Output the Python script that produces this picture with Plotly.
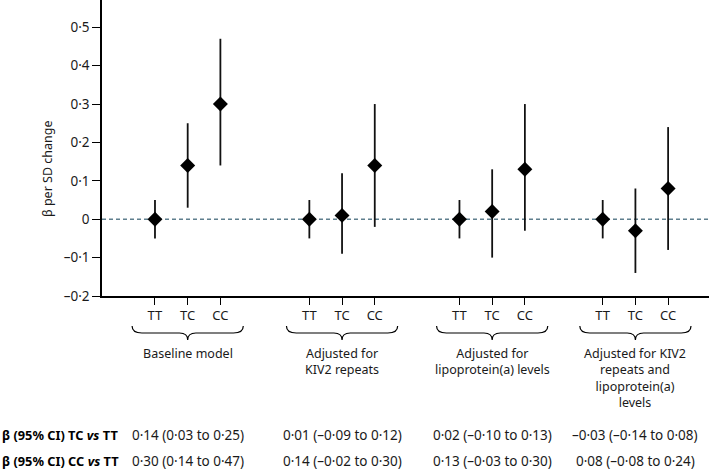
import plotly.graph_objects as go

# ---- data ----
groups = ["Baseline model", "Adjusted for<br>KIV2 repeats", "Adjusted for<br>lipoprotein(a) levels",
          "Adjusted for KIV2<br>repeats and<br>lipoprotein(a)<br>levels"]
genotypes = ["TT", "TC", "CC"]
beta = [[0.0, 0.14, 0.30], [0.0, 0.01, 0.14], [0.0, 0.02, 0.13], [0.0, -0.03, 0.08]]
ci_low = [[-0.05, 0.03, 0.14], [-0.05, -0.09, -0.02], [-0.05, -0.10, -0.03], [-0.05, -0.14, -0.08]]
ci_high = [[0.05, 0.25, 0.47], [0.05, 0.12, 0.30], [0.05, 0.13, 0.30], [0.05, 0.08, 0.24]]
row_labels = ["β (95% CI) TC <i>vs</i> TT", "β (95% CI) CC <i>vs</i> TT"]
tc_text = ["0·14 (0·03 to 0·25)", "0·01 (–0·09 to 0·12)", "0·02 (–0·10 to 0·13)", "–0·03 (–0·14 to 0·08)"]
cc_text = ["0·30 (0·14 to 0·47)", "0·14 (–0·02 to 0·30)", "0·13 (–0·03 to 0·30)", "0·08 (–0·08 to 0·24)"]
y_ticks = [-0.2, -0.1, 0, 0.1, 0.2, 0.3, 0.4, 0.5]
y_ticktext = ["–0·2", "–0·1", "0", "0·1", "0·2", "0·3", "0·4", "0·5"]

# layout constants (group start offsets on the x axis)
GROUP_START = [0.0, 4.72, 9.31, 13.69]
OFF = 2.0
FONT = "Noto Sans"
W, H = 709, 470
L, B = 102, 174
PH = H - B  # plot height in px

def py(pix):
    return (PH - pix) / PH

def px(pix):
    return (pix - L) / (W - L)

xs, ys, lo, hi, tv, tt = [], [], [], [], [], []
for g in range(len(groups)):
    for k in range(3):
        x = OFF + GROUP_START[g] + k
        xs.append(x)
        ys.append(beta[g][k])
        lo.append(beta[g][k] - ci_low[g][k])
        hi.append(ci_high[g][k] - beta[g][k])
        tv.append(x)
        tt.append(genotypes[k])

fig = go.Figure()
fig.add_trace(go.Scatter(
    x=xs, y=ys, mode="markers",
    marker=dict(symbol="diamond", size=11.5, color="black"),
    error_y=dict(type="data", symmetric=False, array=hi, arrayminus=lo,
                 width=0, thickness=1.8, color="#111111"),
    showlegend=False,
))

x0, x1 = OFF - 1.62, OFF + 16.94
fig.add_shape(type="line", x0=x0, x1=x1, y0=0, y1=0, xref="x", yref="y",
              line=dict(color="#5f7f8e", width=1.6, dash="4px,3px"), layer="below")

annotations = []
for g, name in enumerate(groups):
    c = OFF + GROUP_START[g] + 1
    a, b = c - 1.7, c + 1.7
    ytop, ymid, ybot = py(326), py(333), py(340)
    path = (f"M {a:.4f},{ytop:.4f} Q {a:.4f},{ymid:.4f} {a+0.3:.4f},{ymid:.4f} L {c-0.25:.4f},{ymid:.4f} "
            f"Q {c:.4f},{ymid:.4f} {c:.4f},{ybot:.4f} Q {c:.4f},{ymid:.4f} {c+0.25:.4f},{ymid:.4f} "
            f"L {b-0.3:.4f},{ymid:.4f} Q {b:.4f},{ymid:.4f} {b:.4f},{ytop:.4f}")
    fig.add_shape(type="path", path=path, xref="x", yref="paper",
                  line=dict(color="black", width=1.2))
    annotations.append(dict(x=c, y=py(343), xref="x", yref="paper", text=name,
                            showarrow=False, yanchor="top", xanchor="center",
                            font=dict(size=12.5, color="#1a1a1a", family=FONT)))
    annotations.append(dict(x=c, y=py(435), xref="x", yref="paper", text=tc_text[g],
                            showarrow=False, yanchor="middle", xanchor="center",
                            font=dict(size=13.5, color="#1a1a1a", family=FONT)))
    annotations.append(dict(x=c, y=py(461.5), xref="x", yref="paper", text=cc_text[g],
                            showarrow=False, yanchor="middle", xanchor="center",
                            font=dict(size=13.5, color="#1a1a1a", family=FONT)))

for i, lab in enumerate(row_labels):
    annotations.append(dict(x=px(0), y=py(435 if i == 0 else 461.5), xref="paper", yref="paper",
                            text=f"<b>{lab}</b>", showarrow=False, xanchor="left", yanchor="middle",
                            font=dict(size=12.8, color="black", family=FONT)))

annotations.append(dict(x=px(47), y=py(169), xref="paper", yref="paper", text="β per SD change",
                        textangle=-90, showarrow=False, xanchor="center", yanchor="middle",
                        font=dict(size=12.5, color="#1a1a1a", family=FONT)))

fig.update_layout(
    width=W, height=H, margin=dict(l=L, r=0, t=0, b=B),
    plot_bgcolor="white", paper_bgcolor="white",
    font=dict(family=FONT, size=12.5, color="#1a1a1a"),
    annotations=annotations,
    xaxis=dict(range=[x0, x1], tickvals=tv, ticktext=tt, ticks="outside", ticklen=7,
               tickwidth=1.2, tickcolor="black", showline=True, linecolor="black", linewidth=1.5,
               showgrid=False, zeroline=False, fixedrange=True,
               tickfont=dict(size=13, color="#1a1a1a", family=FONT)),
    yaxis=dict(range=[-0.2, 0.571], tickvals=y_ticks, ticktext=y_ticktext, ticks="outside",
               ticklen=8, tickwidth=1.2, tickcolor="black", showline=True, linecolor="black",
               linewidth=1.5, showgrid=False, zeroline=False, fixedrange=True,
               tickfont=dict(size=13.5, color="#1a1a1a", family=FONT)),
)

fig.write_html("out.html", config={"displayModeBar": False},
               post_script="document.body.style.margin='0';document.body.style.padding='0';")
